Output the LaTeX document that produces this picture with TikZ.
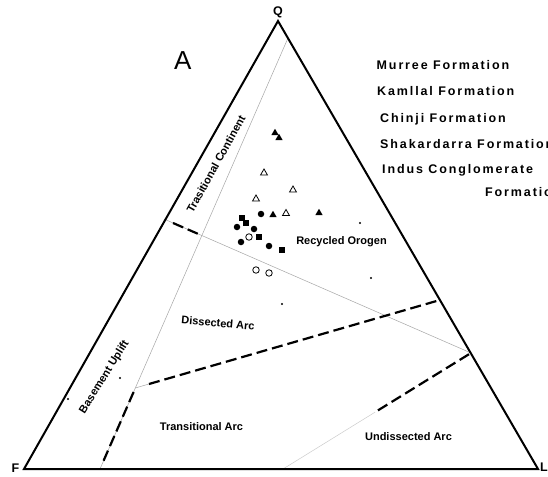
\documentclass[tikz,border=0pt]{standalone}
\usepackage{fontspec}
\setmainfont{Liberation Sans}
\newfontfamily\legendfont{Liberation Sans}[LetterSpace=15]
\usetikzlibrary{shapes.geometric}
\begin{document}
\begin{tikzpicture}[x=1pt,y=-1pt,
  edge/.style={line width=2pt, line join=miter},
  guide/.style={gray!70, line width=0.5pt},
  bound/.style={line width=2.2pt, dash pattern=on 11pt off 5pt},
  region/.style={font=\fontsize{11}{12}\selectfont\bfseries, inner sep=0pt},
  legend/.style={font=\fontsize{12.5}{14}\legendfont\bfseries, anchor=base west, inner sep=0pt},
  apex/.style={font=\fontsize{12.5}{14}\selectfont\bfseries, inner sep=0pt},
  ftri/.style={regular polygon, regular polygon sides=3, fill=black, minimum size=8.5pt, inner sep=0pt},
  otri/.style={regular polygon, regular polygon sides=3, draw=black, line width=0.8pt, fill=white, minimum size=8pt, inner sep=0pt},
  fcirc/.style={circle, fill=black, minimum size=6.5pt, inner sep=0pt},
  ocirc/.style={circle, draw=black, line width=0.8pt, fill=white, minimum size=6.5pt, inner sep=0pt},
  fsq/.style={rectangle, fill=black, minimum size=6pt, inner sep=0pt},
  dotm/.style={circle, fill=black, minimum size=2.2pt, inner sep=0pt}]
\useasboundingbox[fill=white] (0,0) rectangle (548,476);

% corners of the QFL triangle
\coordinate (Q) at (278,21);
\coordinate (F) at (24,469);
\coordinate (L) at (538,469);

% thin guide lines
\coordinate (g1s) at (288,38);
\coordinate (J1)  at (135.3,388);
\coordinate (g1e) at (100,469);
\coordinate (P1)  at (164,219);
\coordinate (J2)  at (471,353);
\coordinate (R3)  at (440,300);
\coordinate (B2)  at (283,469);
\draw[guide] (g1s) -- (g1e);
\draw[guide] (P1) -- (J2);

% field boundaries
\coordinate (d1a) at (173,223);
\coordinate (d1b) at (200,234.7);
\draw[bound] (d1a) -- (d1b);
\coordinate (d3a) at (149,384);
\draw[guide] (J1) -- (d3a);
\draw[bound] (d3a) -- (R3);
\coordinate (d4a) at (133.6,392);
\coordinate (d4b) at (103,462);
\draw[bound] (d4a) -- (d4b);
\coordinate (d5a) at (469,354.2);
\coordinate (d5b) at (375,412.2);
\draw[bound] (d5a) -- (d5b);
\draw[guide, gray!40] (d5b) -- (B2);

% triangle
\draw[edge] (F) -- (L) -- (Q) -- cycle;

% apex labels
\node[apex] (lQ) at (278,12) {Q};
\node[apex] (lF) at (15.5,468) {F};
\node[apex, anchor=west] (lL) at (540,467) {L};
\node[font=\fontsize{26}{28}\selectfont, inner sep=0pt] (lA) at (182.7,61) {A};

% field names
\node[region, rotate=61] (tc) at (216,164) {Trasitional Continent};
\node[region, rotate=58] (bu) at (104.5,377) {Basement Uplift};
\node[region] (ro) at (341.5,242) {Recycled Orogen};
\node[region, rotate=-5] (da) at (218,323) {Dissected Arc};
\node[region] (ta) at (201.5,427) {Transitional Arc};
\node[region] (ua) at (408.5,437) {Undissected Arc};

% formations
\node[legend] (m1) at (376.5,69.5) {Murree Formation};
\node[legend] (m2) at (377,95.5) {Kamllal Formation};
\node[legend] (m3) at (380,122) {Chinji Formation};
\node[legend] (m4) at (380,148.5) {Shakardarra Formation};
\node[legend] (m5) at (382,173.5) {Indus Conglomerate};
\node[legend] (m6) at (485,196.5) {Formation};

% samples
\foreach \x/\y [count=\i] in {275/133, 279/138, 273/215, 319/213}
  \node[ftri] (ft\i) at (\x,\y) {};
\foreach \x/\y [count=\i] in {264/173, 293/190, 256/199, 286/213.5}
  \node[otri] (ot\i) at (\x,\y) {};
\foreach \x/\y [count=\i] in {261/214, 237/227, 254/229, 241/242, 269/246}
  \node[fcirc] (fc\i) at (\x,\y) {};
\foreach \x/\y [count=\i] in {242/217.5, 246/223, 259/237, 282/250}
  \node[fsq] (fs\i) at (\x,\y) {};
\foreach \x/\y [count=\i] in {249/237, 256/270, 269/273}
  \node[ocirc] (oc\i) at (\x,\y) {};
\foreach \x/\y [count=\i] in {360/223, 371/278, 282/304, 120/378, 68/399}
  \node[dotm] (dt\i) at (\x,\y) {};
\end{tikzpicture}
\end{document}
